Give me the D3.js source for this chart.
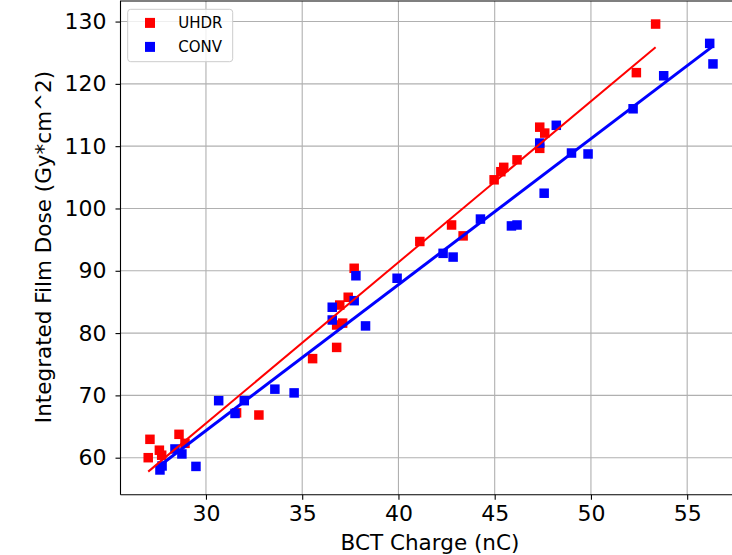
<!DOCTYPE html>
<html>
<head>
<meta charset="utf-8">
<script src="https://cdn.jsdelivr.net/npm/d3@7"></script>
<style>
  html, body { margin: 0; padding: 0; background: #fff; }
  svg { display: block; font-family: 'DejaVu Sans', sans-serif; }
</style>
</head>
<body>
<div id="chart"></div>
<script>
// UHDR shots: BCT charge (nC) and integrated film dose (Gy*cm^2)
const uhdrCharge = [27.0, 27.09, 27.58, 27.70, 28.60, 28.91, 31.59, 32.75, 35.54, 36.79,
  36.79, 37.1, 36.95, 37.39, 37.70, 41.11, 42.76, 43.36, 44.97, 45.32,
  45.47, 46.16, 47.34, 47.60, 47.34, 52.36, 53.36];
const uhdrDose = [60.0, 62.95, 61.2, 60.4, 63.75, 62.3, 67.2, 66.85, 75.9, 77.7,
  81.3, 81.6, 84.5, 85.75, 90.4, 94.7, 97.35, 95.6, 104.6, 105.9,
  106.6, 107.8, 113.05, 112.1, 109.65, 121.8, 129.6];

// CONV shots
const convCharge = [27.61, 27.72, 28.39, 28.75, 29.48, 30.66, 31.51, 31.99, 33.58, 34.58,
  36.56, 36.56, 37.70, 37.79, 38.29, 39.93, 42.32, 42.84, 44.26, 45.87,
  46.16, 47.57, 47.34, 48.20, 48.99, 49.85, 52.19, 53.78, 56.17, 56.34];
const convDose = [58.03, 58.67, 61.4, 60.6, 58.6, 69.15, 67.1, 69.15, 71.0, 70.4,
  84.15, 82.1, 85.2, 89.2, 81.15, 88.8, 92.8, 92.2, 98.3, 97.2,
  97.35, 102.45, 110.5, 113.35, 108.9, 108.75, 116.0, 121.3, 126.5, 123.2];

const xTicks = [30, 35, 40, 45, 50, 55];
const yTicks = [60, 70, 80, 90, 100, 110, 120, 130];

const series = [
  { name: 'UHDR', color: '#ff0000', xs: uhdrCharge, ys: uhdrDose, lw: 2 },
  { name: 'CONV', color: '#0000ff', xs: convCharge, ys: convDose, lw: 3 }
];

const W = 732, H = 555;
const plot = { left: 120.5, top: 1, right: 743, bottom: 494.7 };

const svg = d3.select('#chart')
  .append('svg')
  .attr('width', W)
  .attr('height', H);

const x = d3.scaleLinear()
  .domain([25.56, 57.9])
  .range([plot.left, plot.right]);

const y = d3.scaleLinear()
  .domain([54.06, 133.3])
  .range([plot.bottom, plot.top]);

// least squares fit, like np.polyfit(x, y, 1)
function fit(xs, ys) {
  const mx = d3.mean(xs), my = d3.mean(ys);
  let sxy = 0, sxx = 0;
  xs.forEach((v, i) => { sxy += (v - mx) * (ys[i] - my); sxx += (v - mx) * (v - mx); });
  const m = sxy / sxx;
  return { m, b: my - m * mx };
}

// grid
const grid = svg.append('g').attr('stroke', '#b0b0b0').attr('stroke-width', 1.1);
grid.selectAll('.gx')
  .data(xTicks)
  .join('line')
  .attr('x1', d => x(d)).attr('x2', d => x(d))
  .attr('y1', plot.top).attr('y2', plot.bottom);
grid.selectAll('.gy')
  .data(yTicks)
  .join('line')
  .attr('x1', plot.left).attr('x2', plot.right)
  .attr('y1', d => y(d)).attr('y2', d => y(d));

// points
const ms = 9.5;
series.forEach(s => {
  svg.append('g')
    .selectAll('rect')
    .data(s.xs.map((v, i) => [v, s.ys[i]]))
    .join('rect')
    .attr('x', d => x(d[0]) - ms / 2)
    .attr('y', d => y(d[1]) - ms / 2)
    .attr('width', ms)
    .attr('height', ms)
    .attr('fill', s.color);
});

// fit lines
series.forEach(s => {
  const f = fit(s.xs, s.ys);
  const x0 = d3.min(s.xs), x1 = d3.max(s.xs);
  svg.append('line')
    .attr('x1', x(x0)).attr('y1', y(f.m * x0 + f.b))
    .attr('x2', x(x1)).attr('y2', y(f.m * x1 + f.b))
    .attr('stroke', s.color)
    .attr('stroke-width', s.lw);
});

// axes
const xAxis = svg.append('g')
  .attr('transform', `translate(0,${plot.bottom})`)
  .call(d3.axisBottom(x).tickValues(xTicks).tickSize(5).tickPadding(6).tickFormat(d3.format('d')));
const yAxis = svg.append('g')
  .attr('transform', `translate(${plot.left},0)`)
  .call(d3.axisLeft(y).tickValues(yTicks).tickSize(5).tickPadding(9).tickFormat(d3.format('d')));

[xAxis, yAxis].forEach(a => {
  a.select('.domain').remove();
  a.selectAll('line').attr('stroke', '#000').attr('stroke-width', 1.1);
  a.selectAll('text')
    .attr('fill', '#000')
    .attr('font-size', 22)
    .attr('font-family', 'DejaVu Sans, sans-serif');
});

// spines
svg.append('path')
  .attr('d', `M${plot.left},${plot.bottom}V${plot.top}H${plot.right}`)
  .attr('fill', 'none')
  .attr('stroke', '#000')
  .attr('stroke-width', 1.1);
svg.append('line')
  .attr('x1', plot.left).attr('x2', plot.right)
  .attr('y1', plot.bottom).attr('y2', plot.bottom)
  .attr('stroke', '#000')
  .attr('stroke-width', 1.1);

// axis labels
svg.append('text')
  .attr('x', 430)
  .attr('y', 550)
  .attr('text-anchor', 'middle')
  .attr('font-size', 21.5)
  .attr('fill', '#000')
  .text('BCT Charge (nC)');

svg.append('text')
  .attr('transform', `translate(51,247) rotate(-90)`)
  .attr('text-anchor', 'middle')
  .attr('font-size', 21.5)
  .attr('fill', '#000')
  .text('Integrated Film Dose (Gy*cm^2)');

// legend
const legend = svg.append('g').attr('transform', 'translate(127.7,9.3)');
legend.append('rect')
  .attr('width', 105)
  .attr('height', 52.4)
  .attr('rx', 3)
  .attr('fill', '#fff')
  .attr('fill-opacity', 0.8)
  .attr('stroke', '#cccccc');
series.forEach((s, i) => {
  const row = legend.append('g').attr('transform', `translate(0,${13.6 + i * 24})`);
  row.append('rect')
    .attr('x', 22.3 - 5).attr('y', -5)
    .attr('width', 10).attr('height', 10)
    .attr('fill', s.color);
  row.append('text')
    .attr('x', 50.6)
    .attr('y', 0)
    .attr('dy', '0.36em')
    .attr('font-size', 15)
    .attr('fill', '#000')
    .text(s.name);
});
</script>
</body>
</html>
